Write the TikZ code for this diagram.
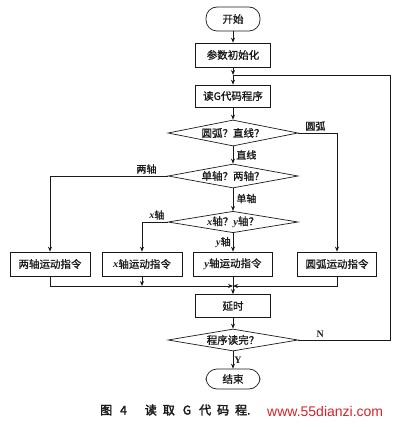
\documentclass[tikz,border=0pt]{standalone}
\usepackage{fontspec}
\setmainfont{Liberation Serif}
\newfontfamily\cjk[AutoFakeBold=1.2]{Noto Sans CJK SC}
\newfontfamily\cjkb[AutoFakeBold=2.5]{Noto Sans CJK SC}
\newfontfamily\wmfont{Liberation Sans}
\newfontfamily\axfont{Liberation Serif}
\newcommand{\ax}[1]{{\axfont\bfseries\itshape #1}}
\usetikzlibrary{arrows.meta,shapes.geometric}
\definecolor{ln}{RGB}{25,25,25}
\definecolor{wm}{RGB}{214,34,40}
\tikzset{
  proc/.style={draw=ln,line width=0.7pt,minimum width=75pt,minimum height=24pt,inner sep=1pt,font=\cjk\bfseries\fontsize{10.5}{12}\selectfont,text=ln},
  cmd/.style={proc,minimum width=80pt},
  term/.style={draw=ln,line width=0.7pt,rounded corners=11pt,minimum width=54pt,minimum height=22pt,inner sep=1pt,font=\cjk\bfseries\fontsize{10.5}{12}\selectfont,text=ln},
  dec/.style={diamond,aspect=5,draw=ln,line width=0.7pt,inner sep=0pt,minimum width=130pt,minimum height=24pt,font=\cjk\bfseries\fontsize{10.5}{12}\selectfont,text=ln},
  arr/.style={-{Stealth[length=5pt,width=4pt]},ln,line width=0.7pt},
  lnk/.style={ln,line width=0.7pt},
  lab/.style={font=\cjk\bfseries\fontsize{10}{11}\selectfont,text=ln,inner sep=1pt},
}

\begin{document}
\begin{tikzpicture}[x=1pt,y=-1pt]
\useasboundingbox (0,0) rectangle (400,427);
% ---- main column ----
\def\xm{233}\def\yc{264}\def\ym{286}\def\xr{390}
\node[term,minimum height=24pt] (start) at (\xm,19) {开始};
\node[proc] (init) at (\xm,55) {参数初始化};
\coordinate (j1) at (\xm,75);
\node[proc,minimum height=22pt] (read) at (\xm,96) {读G代码程序};
\node[dec,minimum height=26pt] (d1) at (\xm,133) {圆弧？直线？};
\node[dec] (d2) at (\xm,176) {单轴？两轴？};
\node[dec,minimum height=21pt] (d3) at (\xm,222) {\ax{x}轴？\ax{y}轴？};
% ---- motion commands ----
\node[cmd] (two) at (50,\yc) {两轴运动指令};
\node[cmd] (xcmd) at (142,\yc) {\ax{x}轴运动指令};
\node[cmd,minimum width=79pt] (ycmd) at (\xm,\yc) {\ax{y}轴运动指令};
\node[cmd,minimum width=79pt] (arc) at (337,\yc) {圆弧运动指令};
\coordinate (m) at (\xm,\ym);
\node[proc,minimum height=23pt] (delay) at (\xm,306) {延时};
\node[dec,minimum height=22pt] (d4) at (\xm,340) {程序读完？};
\node[term,minimum height=20pt] (stop) at (\xm,379) {结束};
\coordinate (fb) at (\xr,75);

% ---- connectors ----
\draw[arr] (start) -- (init);
\draw[arr] (init) -- (j1);
\draw[arr] (j1) -- (read);
\draw[arr] (read) -- (d1);
\draw[arr] (d1) -- node[lab,anchor=west,xshift=2pt] {直线} (d2);
\draw[arr] (d2) -- node[lab,anchor=west,xshift=2pt,pos=0.45] {单轴} (d3);
\draw[arr] (d1.east) -| node[lab,pos=0.22,above=1pt] {圆弧} (arc.north);
\draw[arr] (d2.west) -| node[lab,pos=0.09,above=1pt] {两轴} (two.north);
\draw[arr] (d3.west) -| node[lab,pos=0.21,above=1pt] {\ax{x}轴} (xcmd.north);
\draw[arr] (d3.south) -- node[lab,anchor=east,xshift=-1pt] {\ax{y}轴} (ycmd.north);
% merge
\draw[arr] (two.south) |- (m);
\draw[arr] (arc.south) |- (m);
\draw[arr] (xcmd.south) -- (xcmd.south |- m);
\draw[lnk] (ycmd.south) -- (m);
\draw[arr] (m) -- (delay);
\draw[arr] (delay) -- (d4);
\draw[arr] (d4) -- node[lab,anchor=west,font=\bfseries\fontsize{10}{11}\selectfont] {Y} (stop);
% loop back
\draw[lnk] (d4.east) -| node[lab,pos=0.12,above=1pt,font=\bfseries\fontsize{10}{11}\selectfont] {N} (fb) -- (j1);

% ---- caption ----
\node[anchor=west,inner sep=0pt,font=\cjkb\bfseries\fontsize{12}{14}\selectfont,text=ln] (cap) at (100,410)
  {图\hspace{8pt}4\hspace{18pt}读\hspace{6pt}取\hspace{8pt}G\hspace{8pt}代\hspace{6pt}码\hspace{6pt}程.};
\node[anchor=west,inner sep=0pt,font=\wmfont\fontsize{14}{16}\selectfont,text=wm] (wmark) at (267,411) {www.55dianzi.com};
\end{tikzpicture}
\end{document}
